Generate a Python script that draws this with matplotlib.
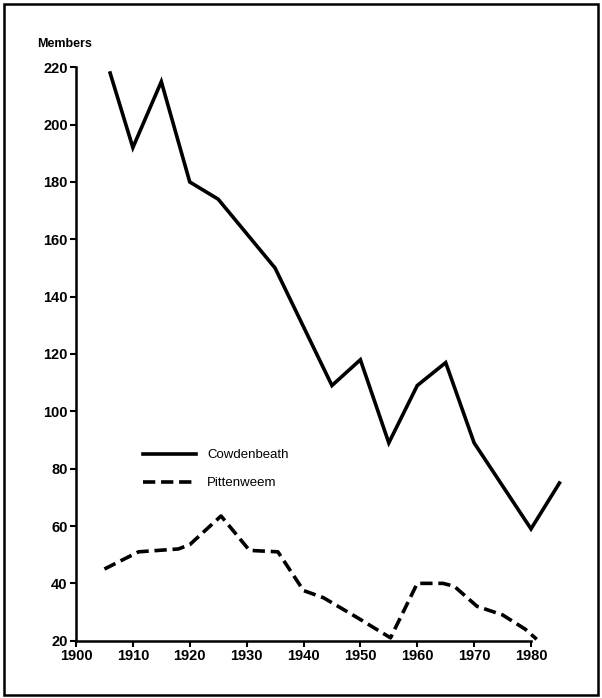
import matplotlib.pyplot as plt
import matplotlib.patches as patches

# data
cow_years = [1906, 1910, 1915, 1920, 1925, 1935, 1945, 1950, 1955, 1960, 1965, 1970, 1980, 1985]
cow_members = [218, 192, 215, 180, 174, 150, 109, 118, 89, 109, 117, 89, 59, 75]

pit_years = [1905, 1911, 1918, 1920, 1925.5, 1930.5, 1935.5, 1940, 1943.5, 1949.5, 1955.3,
             1960, 1964.5, 1966.5, 1970.5, 1975, 1979, 1981]
pit_members = [45, 51, 52, 53.5, 63.5, 51.5, 51, 37.5, 35, 28, 21,
               40, 40, 39, 32, 29, 24, 20.5]

x_ticks = [1900, 1910, 1920, 1930, 1940, 1950, 1960, 1970, 1980]
x_labels = ['1900', '1910', '1920', '1930', '1940', '1950', '1960', '1970', '1980']
y_ticks = [20, 40, 60, 80, 100, 120, 140, 160, 180, 200, 220]

plt.rcParams['font.family'] = ['Liberation Sans', 'DejaVu Sans']

W, H = 602, 698
fig = plt.figure(figsize=(W / 100, H / 100), dpi=100)

# axes placed so that 1900 -> x=76px, 1980 -> x=531px, 20 -> y=640.7px, 220 -> y=67.3px
px_per_year = (531 - 76) / 80
x0, x1 = 1900, 1988
left = 76 / W
width = (x1 - x0) * px_per_year / W
bottom = 1 - 640.7 / H
height = (640.7 - 67.3) / H
ax = fig.add_axes([left, bottom, width, height])

ax.plot(cow_years, cow_members, color='black', linewidth=2.6, solid_joinstyle='miter',
        clip_on=False, label='Cowdenbeath')
ax.plot(pit_years, pit_members, color='black', linewidth=2.6, dashes=(3.4, 1.6),
        clip_on=False, label='Pittenweem')

ax.set_xlim(x0, x1)
ax.set_ylim(20, 220)
ax.set_xticks(x_ticks)
ax.set_xticklabels(x_labels)
ax.set_yticks(y_ticks)

for s in ['top', 'right']:
    ax.spines[s].set_visible(False)
ax.spines['bottom'].set_bounds(1900, 1980)
ax.spines['left'].set_linewidth(1.8)
ax.spines['bottom'].set_linewidth(1.8)
ax.tick_params(direction='out', length=4, width=1.5, pad=2, labelsize=10.5)
for lbl in ax.get_xticklabels() + ax.get_yticklabels():
    lbl.set_fontweight('bold')

leg = ax.legend(loc='upper left', bbox_to_anchor=(143 / W, 1 - 449 / H),
                bbox_transform=fig.transFigure, frameon=False, fontsize=9.5,
                handlelength=4.0, handletextpad=0.85, labelspacing=1.2,
                borderpad=0, borderaxespad=0)
for t in leg.get_texts():
    t.set_fontweight('medium')

fig.text(37 / W, 1 - 44 / H, 'Members', fontsize=9, fontweight='bold',
         ha='left', va='center')

# outer frame of the scanned figure
frame = patches.Rectangle((4 / W, 3 / H), 594 / W, 691 / H, transform=fig.transFigure,
                          fill=False, edgecolor='black', linewidth=1.8)
fig.patches.append(frame)

fig.savefig('out.png', dpi=100)
